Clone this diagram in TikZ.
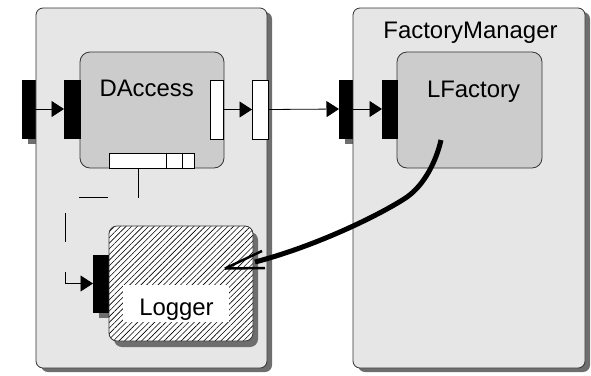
\documentclass[tikz,border=0pt]{standalone}
\usepackage{fontspec}
\setmainfont{Liberation Sans}
\usetikzlibrary{arrows.meta,shadows,patterns.meta}
\definecolor{outerfill}{HTML}{E6E6E6}
\definecolor{innerfill}{HTML}{CCCCCC}
\definecolor{shadowgray}{HTML}{6E6E6E}
\definecolor{edgegray}{HTML}{333333}
\begin{document}
\begin{tikzpicture}[x=1bp,y=-1bp,
  container/.style={draw=edgegray, line width=0.8bp, fill=outerfill,
    rounded corners=7bp, inner sep=0, outer sep=0,
    general shadow={fill=shadowgray, shadow xshift=5bp, shadow yshift=-4bp}},
  component/.style={draw=edgegray, line width=0.8bp, fill=innerfill,
    rounded corners=10bp, inner sep=0, outer sep=0},
  loggerbox/.style={draw=edgegray, line width=0.8bp, rounded corners=8bp,
    inner sep=0, outer sep=0,
    general shadow={fill=shadowgray, shadow xshift=5bp, shadow yshift=-6bp},
    preaction={fill=white},
    pattern={Lines[angle=45,distance=4bp,line width=0.6bp]}},
  reqport/.style={fill=black, draw=black, line width=0.4bp, inner sep=0, outer sep=0},
  reqportsh/.style={reqport,
    general shadow={fill=shadowgray, shadow xshift=6bp, shadow yshift=-6bp}},
  provport/.style={fill=white, draw=black, line width=0.8bp, inner sep=0, outer sep=0},
  link/.style={line width=0.8bp, -{Triangle[length=12.5bp,width=16bp]}},
  txt/.style={font=\fontsize{24}{28}\selectfont, anchor=base, inner sep=0}]
\useasboundingbox (0,0) rectangle (591,375);

% ports on the container borders (their shadows are partly hidden by the containers)
\node[reqportsh, minimum width=13bp, minimum height=58bp] (pA) at (28.5,109) {};
\node[reqportsh, minimum width=14bp, minimum height=58bp] (pE) at (346,109) {};

% containers
\node[container, minimum width=231bp, minimum height=360bp] (leftbox) at (151.5,188) {};
\node[container, minimum width=232bp, minimum height=360bp] (rightbox) at (469,188) {};
\node[txt] (fmname) at (470.5,38) {FactoryManager};

% components
\node[component, minimum width=144bp, minimum height=116bp] (daccess) at (152,110) {};
\node[component, minimum width=145bp, minimum height=116bp] (lfactory) at (469.5,110) {};
\node[txt] (daccessname) at (146.7,96.7) {DAccess};
\node[txt] (lfactoryname) at (473.5,97) {LFactory};

% component ports
\node[reqport, minimum width=16bp, minimum height=58bp] (pB) at (72,109) {};
\node[provport, minimum width=13bp, minimum height=59bp] (pC) at (216.5,109.5) {};
\node[provport, minimum width=16bp, minimum height=59bp] (pD) at (260,109.5) {};
\node[reqport, minimum width=15bp, minimum height=58bp] (pF) at (389.5,109) {};

% segmented port at the bottom of DAccess
\node[provport, minimum width=57bp, minimum height=15bp] (bp1) at (137.5,160.5) {};
\node[provport, minimum width=16bp, minimum height=15bp] (bp2) at (174,160.5) {};
\node[provport, minimum width=12bp, minimum height=15bp] (bp3) at (188,160.5) {};

% Logger with its port
\node[reqportsh, minimum width=16bp, minimum height=57bp] (pG) at (101,283.5) {};
\node[loggerbox, minimum width=144bp, minimum height=115bp] (logger) at (181,283.5) {};
\node[fill=white, inner sep=0, minimum width=106bp, minimum height=37bp] (loggerplate) at (176,303.5) {};
\node[txt] (loggername) at (176.5,315) {Logger};

% connectors
\draw[link] (pA.east) -- (pB.west);
\draw[link] (pC.east) -- (pD.west);
\draw[link] (pD.east) -- (pE.west);
\draw[link] (pE.east) -- (pF.west);

\coordinate (dsrc) at (138,168);
\draw[link, dash pattern=on 29bp off 30bp]
  (dsrc) -- (138,197) -- (65,197) -- (65,283.5) -- (pG.west);

% thick dependency from LFactory to Logger
\coordinate (fsrc) at (441,140);
\coordinate (ftip) at (225,268.5);
\draw[line width=5bp] (fsrc) .. controls (436,162) and (424,185) .. (407,197)
  .. controls (385,212) and (320,245) .. (255,262);
\draw[line width=2.5bp] (ftip) -- (262,251);
\draw[line width=2.5bp] (ftip) -- (265,268);
\end{tikzpicture}
\end{document}
